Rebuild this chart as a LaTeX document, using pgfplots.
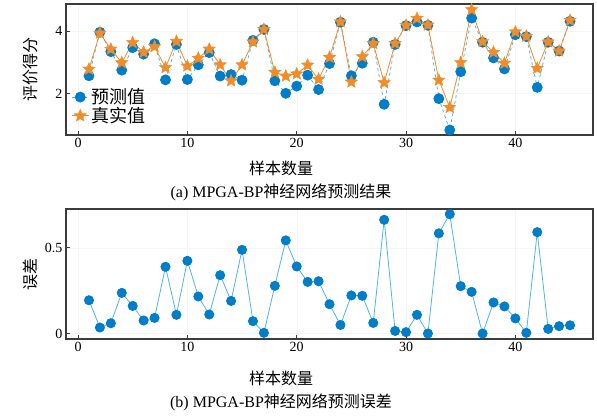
\documentclass[border=0pt]{standalone}
\usepackage{pgfplots}
\pgfplotsset{compat=1.18}
\usepackage{pgfplotstable}
\usepackage{fontspec}
\setmainfont{Liberation Serif}
\newfontfamily\cjk{Noto Sans CJK SC}
\definecolor{predblue}{RGB}{0,125,200}
\definecolor{predline}{RGB}{80,180,232}
\definecolor{trueorange}{RGB}{242,140,40}
\definecolor{axgray}{RGB}{60,60,60}

\pgfdeclareplotmark{fstar}{%
  \pgfpathmoveto{\pgfpointpolar{90}{\pgfplotmarksize}}%
  \pgfpathlineto{\pgfpointpolar{126}{0.45\pgfplotmarksize}}%
  \pgfpathlineto{\pgfpointpolar{162}{\pgfplotmarksize}}%
  \pgfpathlineto{\pgfpointpolar{198}{0.45\pgfplotmarksize}}%
  \pgfpathlineto{\pgfpointpolar{234}{\pgfplotmarksize}}%
  \pgfpathlineto{\pgfpointpolar{270}{0.45\pgfplotmarksize}}%
  \pgfpathlineto{\pgfpointpolar{306}{\pgfplotmarksize}}%
  \pgfpathlineto{\pgfpointpolar{342}{0.45\pgfplotmarksize}}%
  \pgfpathlineto{\pgfpointpolar{18}{\pgfplotmarksize}}%
  \pgfpathlineto{\pgfpointpolar{54}{0.45\pgfplotmarksize}}%
  \pgfpathclose
  \pgfusepathqfillstroke
}

\pgfplotstableread{
x y
1 2.57
2 3.96
3 3.34
4 2.75
5 3.47
6 3.26
7 3.59
8 2.44
9 3.57
10 2.45
11 2.92
12 3.31
13 2.56
14 2.61
15 2.43
16 3.70
17 4.05
18 2.41
19 2.01
20 2.24
21 2.59
22 2.13
23 2.96
24 4.28
25 2.57
26 2.97
27 3.64
28 1.66
29 3.57
30 4.17
31 4.29
32 4.18
33 1.84
34 0.84
35 2.70
36 4.41
37 3.64
38 3.14
39 2.79
40 3.88
41 3.82
42 2.20
43 3.64
44 3.36
45 4.31
}\pred

\pgfplotstableread{
x y
1 2.78
2 3.93
3 3.42
4 2.99
5 3.63
6 3.32
7 3.50
8 2.83
9 3.67
10 2.88
11 3.13
12 3.42
13 2.92
14 2.41
15 2.92
16 3.65
17 4.05
18 2.68
19 2.56
20 2.63
21 2.91
22 2.46
23 3.16
24 4.29
25 2.37
26 3.18
27 3.60
28 2.35
29 3.60
30 4.18
31 4.40
32 4.19
33 2.43
34 1.56
35 2.99
36 4.68
37 3.66
38 3.32
39 2.97
40 3.97
41 3.83
42 2.81
43 3.65
44 3.36
45 4.34
}\truev

\pgfplotstableread{
x y
1 0.194
2 0.035
3 0.060
4 0.237
5 0.161
6 0.076
7 0.091
8 0.389
9 0.109
10 0.424
11 0.216
12 0.111
13 0.340
14 0.190
15 0.488
16 0.072
17 0.004
18 0.278
19 0.543
20 0.391
21 0.301
22 0.305
23 0.171
24 0.050
25 0.222
26 0.220
27 0.062
28 0.663
29 0.015
30 0.008
31 0.109
32 0.000
33 0.584
34 0.696
35 0.276
36 0.243
37 0.000
38 0.181
39 0.158
40 0.088
41 0.004
42 0.591
43 0.027
44 0.043
45 0.048
}\err

\pgfplotsset{
  myaxis/.style={
    scale only axis,
    width=527pt,
    xmin=-1.1, xmax=47.1,
    xtick={0,10,20,30,40},
    tick pos=left,
    tick align=inside,
    major tick length=4pt,
    axis line style={axgray, line width=1.2pt},
    every tick/.style={axgray, line width=0.8pt},
    grid=major,
    major grid style={gray!8, line width=0.4pt},
    tick label style={font=\fontsize{14}{16}\selectfont},
    /pgf/number format/assume math mode=true,
    label style={font=\fontsize{16}{23}\selectfont},
    clip=false,
  }
}

\begin{document}
\begin{tikzpicture}
\useasboundingbox (-66pt,4pt) rectangle (531pt,-412pt);
\begin{axis}[
  myaxis,
  at={(0pt,0pt)}, anchor=north west,
  height=131pt,
  ymin=0.68, ymax=4.86,
  ytick={2,4},
  xlabel={{\cjk 样本数量}\\(a) MPGA-BP{\cjk 神经网络预测结果}},
  xlabel style={align=center, at={(axis description cs:0.408,-0.175)}, anchor=north},
  ylabel={\cjk 评价得分},
  ylabel style={at={(axis description cs:-0.068,0.5)}, anchor=center},
  legend style={draw=none, fill=none, at={(axis description cs:0.004,0.385)}, anchor=north west,
    font=\fontsize{18}{22}\selectfont\cjk, row sep=-2pt},
  legend cell align=left,
]
\addplot[predline, dashed, line width=0.8pt, mark=*, mark size=5pt,
  mark options={solid, fill=predblue, draw=predblue}] table[x=x,y=y] {\pred};
\addlegendentry{预测值}
\addplot[trueorange, solid, line width=0.8pt, mark=fstar, mark size=6.5pt,
  mark options={fill=trueorange, draw=trueorange, line width=0.4pt}] table[x=x,y=y] {\truev};
\addlegendentry{真实值}
\end{axis}

\begin{axis}[
  myaxis,
  at={(0pt,-205pt)}, anchor=north west,
  height=130pt,
  ymin=-0.032, ymax=0.726,
  ytick={0,0.5},
  yticklabels={0,0.5},
  xlabel={{\cjk 样本数量}\\(b) MPGA-BP{\cjk 神经网络预测误差}},
  xlabel style={align=center, at={(axis description cs:0.408,-0.22)}, anchor=north},
  ylabel={\cjk 误差},
  ylabel style={at={(axis description cs:-0.068,0.5)}, anchor=center},
]
\addplot[predline, solid, line width=0.8pt, mark=*, mark size=4.6pt,
  mark options={fill=predblue, draw=predblue}] table[x=x,y=y] {\err};
\end{axis}
\end{tikzpicture}
\end{document}
